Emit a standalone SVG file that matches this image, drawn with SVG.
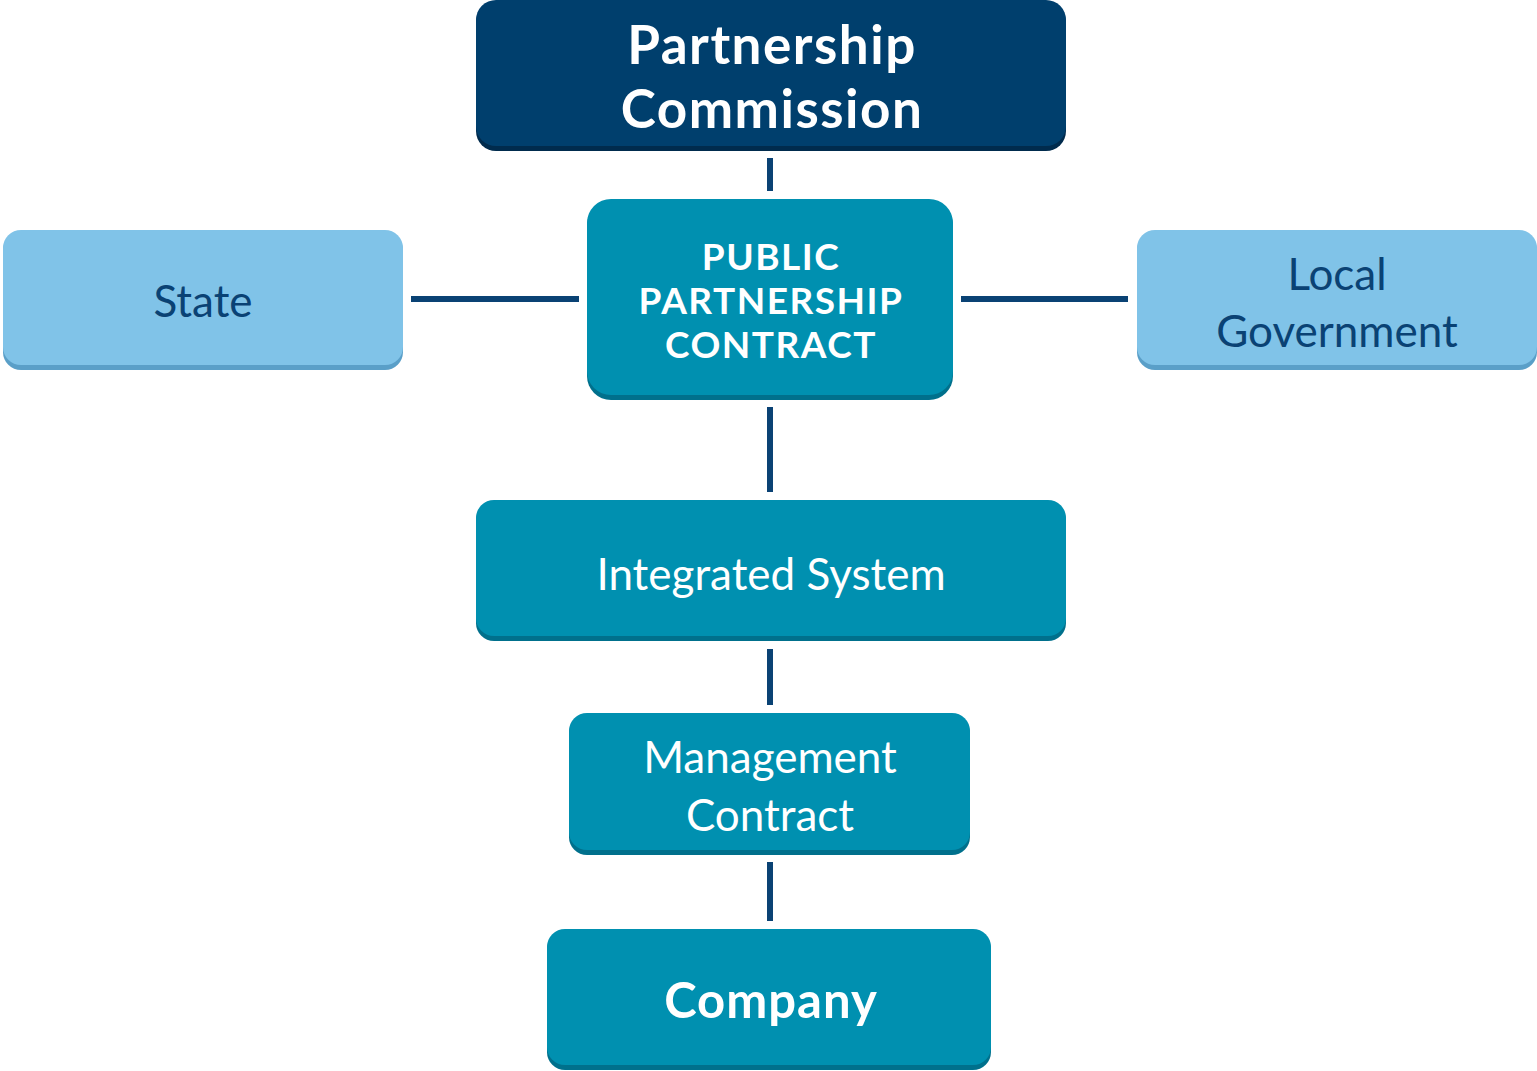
<svg xmlns="http://www.w3.org/2000/svg" width="1537" height="1071" viewBox="0 0 1537 1071">
<style>
.lb{fill:#80c3e8}
.lbe{fill:#5a9fc8}
.tl{fill:#0090b0}
.tle{fill:#00708c}
.nv{fill:#003f6d}
.nve{fill:#002b4d}
.t{font-family:"Lato","Open Sans","Liberation Sans",sans-serif;text-anchor:middle}
.w{fill:#ffffff}
.d{fill:#0a4274}
.b{font-weight:bold}
.c{stroke:#0a4274;stroke-width:6;fill:none}
</style>
<g id="connectors">
<line class="c" x1="770" y1="158" x2="770" y2="191"/>
<line class="c" x1="411" y1="299" x2="579" y2="299"/>
<line class="c" x1="961" y1="299" x2="1128" y2="299"/>
<line class="c" x1="770" y1="407" x2="770" y2="492"/>
<line class="c" x1="770" y1="649" x2="770" y2="705"/>
<line class="c" x1="770" y1="862" x2="770" y2="921"/>
</g>
<g id="partnership-commission">
<rect class="nve" x="476" y="2" width="590" height="149" rx="20"/>
<rect class="nv" x="476" y="0" width="590" height="146" rx="20"/>
<text class="t w b" x="772" y="64" font-size="53" letter-spacing="1.5">Partnership</text>
<text class="t w b" x="772" y="128" font-size="53" letter-spacing="1.5">Commission</text>
</g>
<g id="state">
<rect class="lbe" x="3" y="232" width="400" height="138" rx="18"/>
<rect class="lb" x="3" y="230" width="400" height="135" rx="18"/>
<text class="t d" x="203" y="317" font-size="44">State</text>
</g>
<g id="public-partnership-contract">
<rect class="tle" x="587" y="201" width="366" height="199" rx="24"/>
<rect class="tl" x="587" y="199" width="366" height="196" rx="24"/>
<text class="t w b" x="771" y="270" font-size="37" letter-spacing="1.5">PUBLIC</text>
<text class="t w b" x="771" y="314" font-size="37" letter-spacing="1.5">PARTNERSHIP</text>
<text class="t w b" x="771" y="358" font-size="37" letter-spacing="1.5">CONTRACT</text>
</g>
<g id="local-government">
<rect class="lbe" x="1137" y="232" width="400" height="138" rx="18"/>
<rect class="lb" x="1137" y="230" width="400" height="135" rx="18"/>
<text class="t d" x="1337" y="290" font-size="44">Local</text>
<text class="t d" x="1337" y="347" font-size="44">Government</text>
</g>
<g id="integrated-system">
<rect class="tle" x="476" y="502" width="590" height="139" rx="18"/>
<rect class="tl" x="476" y="500" width="590" height="136" rx="18"/>
<text class="t w" x="771" y="590" font-size="44">Integrated System</text>
</g>
<g id="management-contract">
<rect class="tle" x="569" y="715" width="401" height="140" rx="18"/>
<rect class="tl" x="569" y="713" width="401" height="137" rx="18"/>
<text class="t w" x="770" y="773" font-size="44">Management</text>
<text class="t w" x="770" y="831" font-size="44">Contract</text>
</g>
<g id="company">
<rect class="tle" x="547" y="931" width="444" height="139" rx="18"/>
<rect class="tl" x="547" y="929" width="444" height="136" rx="18"/>
<text class="t w b" x="771" y="1018" font-size="49" letter-spacing="1">Company</text>
</g>
</svg>
